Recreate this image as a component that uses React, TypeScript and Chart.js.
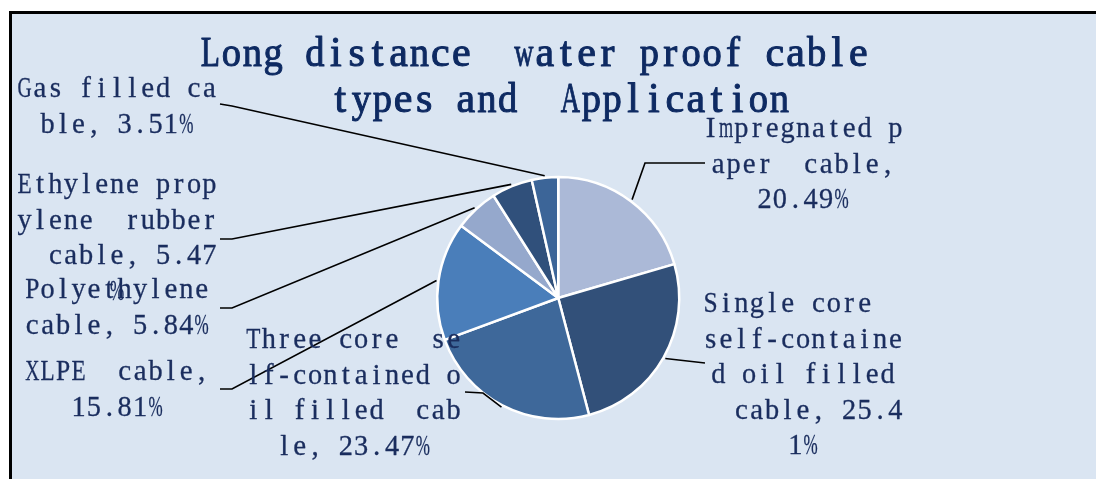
import React, { useEffect, useRef } from "react";
import { Chart, registerables } from "chart.js";

Chart.register(...registerables);

// ---- data ----
const categories = [
  "Impregnated paper  cable",
  "Single core self-contained oil filled cable",
  "Three core  self-contained oil filled  cable",
  "XLPE  cable",
  "Polyethylene cable",
  "Ethylene propylene  rubber cable",
  "Gas filled cable",
];
const values = [20.49, 25.41, 23.47, 15.81, 5.84, 5.47, 3.51];
const sliceColors = ["#abb9d7", "#325079", "#3e689a", "#4a7eba", "#95a8cc", "#30507b", "#3c6598"];
const titleLines = ["Long distance  water proof cable", "types and  Application"];
// wrapped data-label text, as in the picture
const labelLines = [
  ["Impregnated p", "aper  cable,", "20.49%"],
  ["Single core  ", "self-containe", "d oil filled", "  cable, 25.4", "1%"],
  ["Three core  se", "lf-contained o", "il filled  cab", "le, 23.47%"],
  ["XLPE  cable,", "15.81%"],
  ["Polyethylene", "cable, 5.84%"],
  ["Ethylene prop", "ylene  rubber", "  cable, 5.47", "%"],
  ["Gas filled ca", "ble, 3.51%"],
];

// ---- layout ----
const W = 1096;
const H = 479;
const TEXT_COLOR = "#1a2d5e";
const TITLE_COLOR = "#0e2a62";
const FONT_FAMILY = '"Liberation Serif"';
const LABEL_FONT_SIZE = 29;
const LABEL_PITCH = 15.4;
const LABEL_LINE_H = 35.6;
const TITLE_FONT_SIZE = 42;
const TITLE_PITCH = 20.9;
const titlePos = [
  [200, 66],
  [330, 112],
];
// label center x, first baseline y
const labelPos = [
  [803, 137],
  [803, 312],
  [353.5, 348],
  [117, 380],
  [117, 298],
  [117, 193],
  [117, 97],
];
// leader points after the slice edge point
const leaderPts = [
  [[645, 163], [705, 163]],
  [[705, 363]],
  [[483, 393], [465, 392]],
  [[232, 389], [220, 389]],
  [[232, 308], [220, 308]],
  [[232, 239], [220, 239]],
  [[232, 106], [220, 104]],
];

// draws text on a fixed character pitch (half-width CJK-style), glyph by glyph
function drawMono(
  ctx: CanvasRenderingContext2D,
  text: string,
  x: number,
  y: number,
  size: number,
  pitch: number,
  color: string,
  thicken: number
) {
  ctx.save();
  ctx.font = `${size}px ${FONT_FAMILY}`;
  ctx.textBaseline = "alphabetic";
  ctx.textAlign = "center";
  ctx.fillStyle = color;
  ctx.strokeStyle = color;
  ctx.lineJoin = "round";
  const maxW = pitch * 0.92;
  for (let i = 0; i < text.length; i++) {
    const ch = text[i];
    if (ch === " ") continue;
    const w = ctx.measureText(ch).width;
    const s = w > maxW ? maxW / w : 1;
    ctx.save();
    ctx.translate(x + (i + 0.5) * pitch, y);
    ctx.scale(s, 1);
    ctx.fillText(ch, 0, 0);
    if (thicken > 0) {
      ctx.lineWidth = thicken;
      ctx.strokeText(ch, 0, 0);
    }
    ctx.restore();
  }
  ctx.restore();
}

const overlayPlugin = {
  id: "overlay",
  afterDraw(chart: any) {
    const ctx: CanvasRenderingContext2D = chart.ctx;
    const meta = chart.getDatasetMeta(0);
    ctx.save();
    titleLines.forEach((t, i) => {
      drawMono(ctx, t, titlePos[i][0], titlePos[i][1], TITLE_FONT_SIZE, TITLE_PITCH, TITLE_COLOR, 1);
    });
    // leaders
    ctx.strokeStyle = "#000000";
    ctx.lineWidth = 1.6;
    meta.data.forEach((arc: any, i: number) => {
      const p = arc.getProps(["x", "y", "startAngle", "endAngle", "outerRadius"], true);
      const mid = (p.startAngle + p.endAngle) / 2;
      const r = p.outerRadius + 2;
      const sx = p.x + Math.cos(mid) * r;
      const sy = p.y + Math.sin(mid) * r;
      ctx.beginPath();
      ctx.moveTo(sx, sy);
      leaderPts[i].forEach((pt) => ctx.lineTo(pt[0], pt[1]));
      ctx.stroke();
    });
    // labels
    labelLines.forEach((lines, i) => {
      const [cx, y0] = labelPos[i];
      lines.forEach((ln, j) => {
        const x = cx - (ln.length * LABEL_PITCH) / 2;
        drawMono(ctx, ln, x, y0 + j * LABEL_LINE_H, LABEL_FONT_SIZE, LABEL_PITCH, TEXT_COLOR, 0.3);
      });
    });
    ctx.restore();
  },
};

export default function App() {
  const ref = useRef<HTMLCanvasElement | null>(null);
  useEffect(() => {
    if (!ref.current) return;
    const chart = new Chart(ref.current, {
      type: "pie",
      data: {
        labels: categories,
        datasets: [
          {
            data: values,
            backgroundColor: sliceColors,
            borderColor: "#ffffff",
            borderWidth: 2.5,
            hoverBorderWidth: 2.5,
            hoverOffset: 0,
            offset: 0,
          },
        ],
      },
      options: {
        responsive: false,
        animation: false,
        devicePixelRatio: 1,
        layout: { padding: { left: 300, right: 279.5, top: 175.75, bottom: 58.75 } },
        plugins: {
          legend: { display: false },
          tooltip: { enabled: false },
          title: { display: false },
        },
        events: [],
      },
      plugins: [overlayPlugin],
    });
    return () => chart.destroy();
  }, []);

  return (
    <div style={{ position: "fixed", left: 0, top: 0, width: W, height: H, background: "#ffffff", overflow: "hidden" }}>
      <div
        style={{
          position: "absolute",
          left: 9,
          top: 11,
          width: W - 9,
          height: H - 11,
          boxSizing: "border-box",
          borderTop: "3px solid #000",
          borderLeft: "3px solid #000",
          background: "#dae5f2",
        }}
      />
      <canvas ref={ref} width={W} height={H} style={{ position: "absolute", left: 0, top: 0, width: W, height: H }} />
    </div>
  );
}
